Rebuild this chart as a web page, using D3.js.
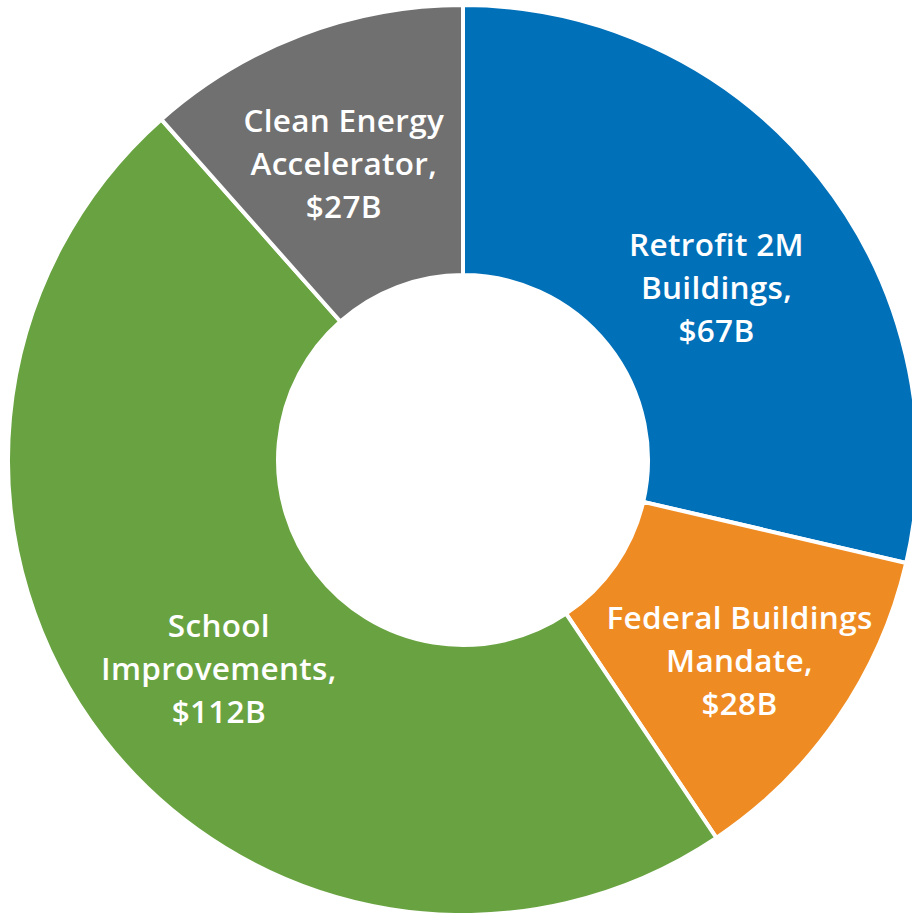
<!DOCTYPE html>
<html>
<head>
<meta charset="utf-8">
<script src="https://cdn.jsdelivr.net/npm/d3@7"></script>
<style>
  html, body { margin: 0; padding: 0; background: #fff; }
  svg { display: block; }
  .lbl { font-family: "Open Sans", sans-serif; font-weight: 600; fill: #fff; }
</style>
</head>
<body>
<svg id="chart"></svg>
<script>
"use strict";

var Width = 912,
    Height = 913,
    cx = 463,
    cy = 460,
    outerR = 455,
    innerR = 185,
    labelR = 325;

var categories = ["Retrofit 2M Buildings", "Federal Buildings Mandate", "School Improvements", "Clean Energy Accelerator"];
var labelLines = [["Retrofit 2M", "Buildings,"], ["Federal Buildings", "Mandate,"], ["School", "Improvements,"], ["Clean Energy", "Accelerator,"]];
var values = [67, 28, 112, 27];
var colors = ["#0070b9", "#ef8b23", "#69a341", "#6f706f"];

var data = categories.map(function (c, i) {
    return { name: c, value: values[i], lines: labelLines[i].concat(["$" + values[i] + "B"]) };
});

var svg = d3.select("#chart")
    .attr("width", Width)
    .attr("height", Height);

var g = svg.append("g")
    .attr("transform", "translate(" + cx + "," + cy + ")");

var pie = d3.pie()
    .sort(null)
    .value(function (d) { return d.value; });

var arc = d3.arc()
    .innerRadius(innerR)
    .outerRadius(outerR);

var labelArc = d3.arc()
    .innerRadius(labelR)
    .outerRadius(labelR);

var color = d3.scaleOrdinal().domain(categories).range(colors);

var arcs = pie(data);

g.selectAll("path.slice")
    .data(arcs)
    .enter()
    .append("path")
    .attr("class", "slice")
    .attr("d", arc)
    .attr("fill", function (d) { return color(d.data.name); })
    .attr("stroke", "#fff")
    .attr("stroke-width", 4)
    .attr("stroke-linejoin", "miter");

// labels: centred on the slice, three lines each
var lineH = 43;
// small nudge so labels sit like the original (Excel best-fit)
var nudge = [[-1, 30], [9, 16], [13, 10], [-4, 8]];

var labels = g.selectAll("text.lbl")
    .data(arcs)
    .enter()
    .append("text")
    .attr("class", "lbl")
    .attr("text-anchor", "middle")
    .attr("font-size", 31.5)
    .attr("letter-spacing", 0.3)
    .attr("transform", function (d, i) {
        var c = labelArc.centroid(d);
        return "translate(" + (c[0] + nudge[i][0]) + "," + (c[1] + nudge[i][1]) + ")";
    });

labels.selectAll("tspan")
    .data(function (d) { return d.data.lines; })
    .enter()
    .append("tspan")
    .attr("x", 0)
    .attr("y", function (d, i) { return (i - 1) * lineH; })
    .attr("dy", "0.35em")
    .text(function (d) { return d; });
</script>
</body>
</html>
